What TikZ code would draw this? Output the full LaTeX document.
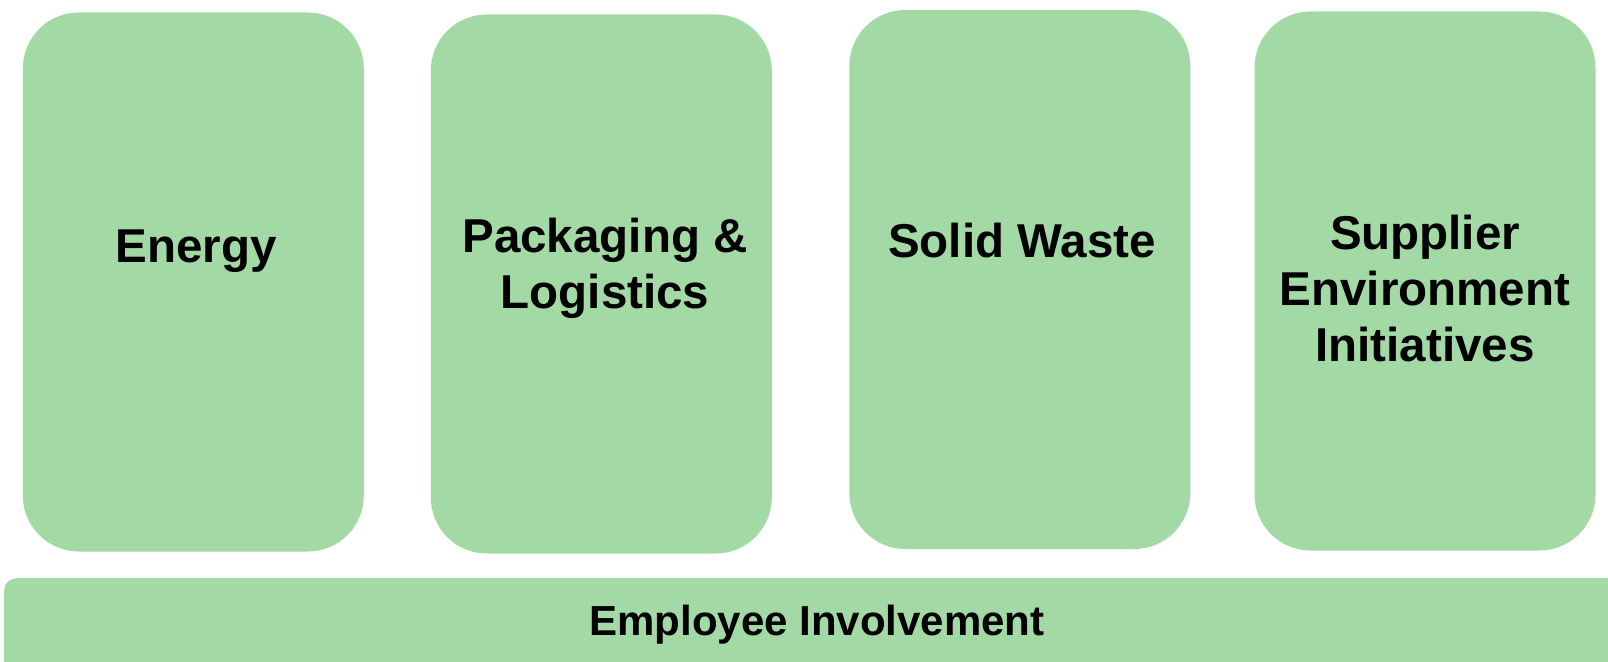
\documentclass[tikz,border=0pt]{standalone}
\usepackage{fontspec}
\setmainfont{Liberation Sans}
\definecolor{pillargreen}{RGB}{163,217,165}
\begin{document}
\begin{tikzpicture}[x=1pt, y=-1pt,
		pillar/.style={rectangle, rounded corners=56pt, fill=pillargreen, draw=none,
			minimum width=341pt, minimum height=539pt, inner sep=0pt},
		base bar/.style={rectangle, rounded corners=12pt, fill=pillargreen, draw=none,
			minimum width=1640pt, minimum height=110pt, inner sep=0pt, anchor=north west},
		pillar text/.style={anchor=base, align=center, inner sep=0pt,
			font=\fontsize{47.5}{56}\selectfont\bfseries},
		bar text/.style={anchor=base, inner sep=0pt,
			font=\fontsize{42}{48}\selectfont\bfseries}]
			\useasboundingbox (0,0) rectangle (1608,661);
			
			%pillars
			\node[pillar] (energy) at (193.3, 282) {};
			\node[pillar] (packaging) at (601.3, 284) {};
			\node[pillar] (waste) at (1019.8, 279.5) {};
			\node[pillar] (supplier) at (1425, 281) {};
			
			%pillar labels (base = last line)
			\node[pillar text] (energyText) at (196, 262) {Energy};
			\node[pillar text] (packagingText) at (605, 308.5) {Packaging \&\\Logistics};
			\node[pillar text] (wasteText) at (1022, 257) {Solid Waste};
			\node[pillar text] (supplierText) at (1425, 361) {Supplier\\Environment\\Initiatives};
			
			%foundation
			\node[base bar] (employee) at (4, 578) {};
			\node[bar text] (employeeText) at (817, 635) {Employee Involvement};
		\end{tikzpicture}
\end{document}
